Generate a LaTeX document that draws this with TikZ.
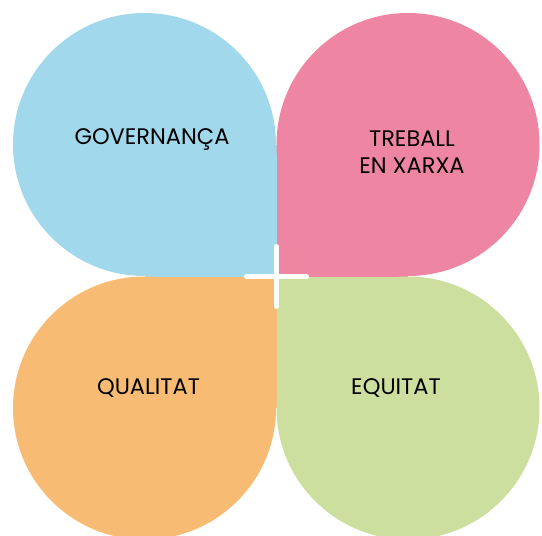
\documentclass[tikz,border=0pt]{standalone}
\usepackage{fontspec}
\setmainfont{Poppins}
\usetikzlibrary{positioning}

\definecolor{petalblue}{HTML}{A2D8EB}
\definecolor{petalpink}{HTML}{EE86A3}
\definecolor{petalorange}{HTML}{F8BB73}
\definecolor{petalgreen}{HTML}{CCDF9E}

\begin{document}
\begin{tikzpicture}[x=1pt,y=-1pt]

\tikzstyle{label_style} = [font=\fontsize{22.5}{27}\selectfont, align=center, text=black, inner sep=0]
\tikzstyle{cross_style} = [draw=white, line width=5, line cap=round]

\useasboundingbox (0,0) rectangle (542,536);

% petals: circle + square corner at the middle
\fill[petalblue] (144.5,144.5) circle (131.5pt);
\fill[petalblue] (144.5,144.5) rectangle (276.5,276.5);

\fill[petalpink] (408,144.5) circle (131.5pt);
\fill[petalpink] (276.5,144.5) rectangle (408,276.5);

\fill[petalorange] (144.5,408) circle (131.5pt);
\fill[petalorange] (144.5,276.5) rectangle (276.5,408);

\fill[petalgreen] (408,408) circle (131.5pt);
\fill[petalgreen] (276.5,276.5) rectangle (408,408);

\coordinate (centre) at (276.5,276.5);
\draw[cross_style] ([xshift=-30pt]centre) -- ([xshift=30pt]centre);
\draw[cross_style] ([yshift=-30pt]centre) -- ([yshift=30pt]centre);

\node[label_style] (gov) at (152,139) {GOVERNANÇA};
\node[label_style] (xarxa) at (412,152) {TREBALL\\EN XARXA};
\node[label_style] (qual) at (148.5,388) {QUALITAT};
\node[label_style] (equi) at (396,388) {EQUITAT};

\end{tikzpicture}
\end{document}
